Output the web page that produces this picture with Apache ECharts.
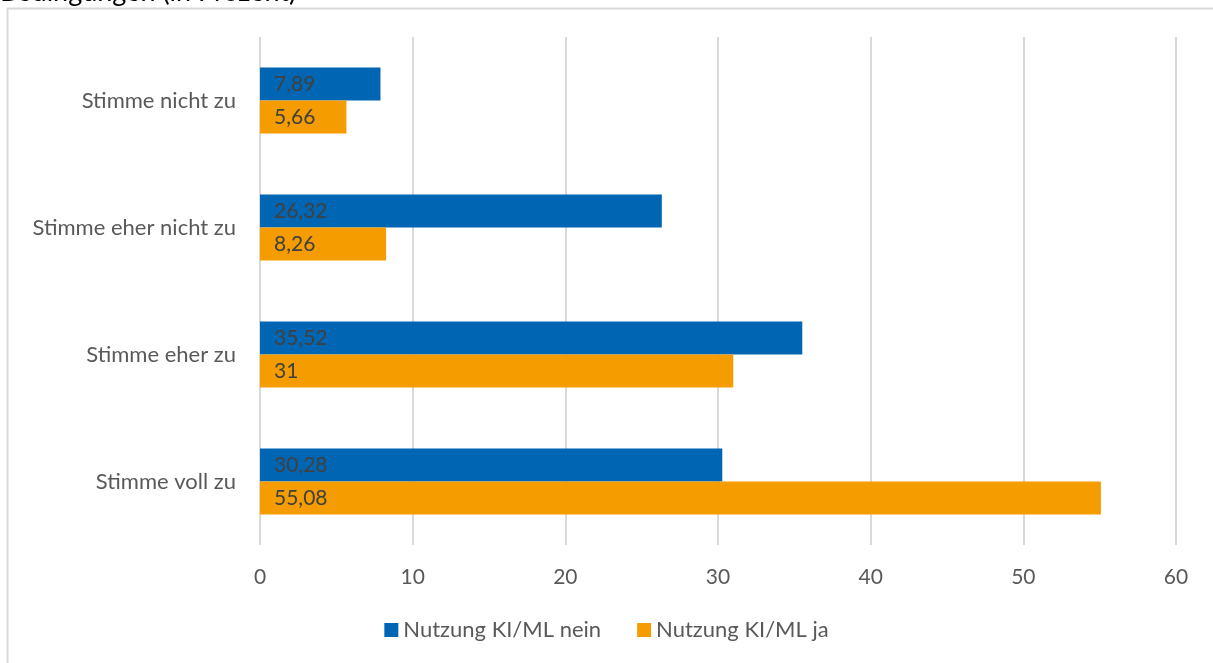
<!DOCTYPE html>
<html>
<head>
<meta charset="utf-8">
<script src="https://cdn.jsdelivr.net/npm/echarts@6/dist/echarts.min.js"></script>
<style>
  html, body { margin: 0; padding: 0; background: #fff; }
  #chart { width: 1213px; height: 663px; }
</style>
</head>
<body>
<div id="chart"></div>
<script>
// Answer categories, listed top to bottom
const categories = ['Stimme nicht zu', 'Stimme eher nicht zu', 'Stimme eher zu', 'Stimme voll zu'];
// Shares in percent per group
const nutzungNein = [7.89, 26.32, 35.52, 30.28];
const nutzungJa = [5.66, 8.26, 31, 55.08];
const seriesNames = ['Nutzung KI/ML nein', 'Nutzung KI/ML ja'];
const titleText = 'Bedingungen (in Prozent)';

const FONT = 'Lato, "Open Sans", sans-serif';
const fmt = p => String(p.value).replace('.', ',');

const chart = echarts.init(document.getElementById('chart'), null, { renderer: 'canvas' });

chart.setOption({
  backgroundColor: '#ffffff',
  animation: false,
  textStyle: { fontFamily: FONT },
  graphic: [
    {
      type: 'rect',
      shape: { x: 7.5, y: 8.5, width: 1220, height: 680 },
      style: { fill: 'none', stroke: '#d9d9d9', lineWidth: 2 },
      silent: true
    },
    {
      type: 'text',
      left: 0,
      top: -21,
      style: { text: titleText, fill: '#000000', font: '27px ' + FONT }
    }
  ],
  legend: {
    data: seriesNames,
    bottom: 17,
    left: 'center',
    padding: [5, 10],
    itemWidth: 14,
    itemHeight: 14,
    itemGap: 36,
    icon: 'rect',
    textStyle: { color: '#595959', fontSize: 22, fontFamily: FONT }
  },
  grid: { left: 260, right: 37, top: 37, bottom: 118, containLabel: false },
  xAxis: {
    type: 'value',
    min: 0,
    max: 60,
    interval: 10,
    axisLine: { show: false },
    axisTick: { show: false },
    axisLabel: { color: '#595959', fontSize: 21, margin: 22, fontFamily: FONT },
    splitLine: { lineStyle: { color: '#d9d9d9', width: 2 } }
  },
  yAxis: {
    type: 'category',
    inverse: true,
    data: categories,
    axisLine: { show: false },
    axisTick: { show: false },
    axisLabel: { color: '#595959', fontSize: 22, margin: 24, fontFamily: FONT }
  },
  series: [
    {
      name: seriesNames[0],
      type: 'bar',
      data: nutzungNein,
      barWidth: 33,
      barGap: '0%',
      itemStyle: { color: '#0066b3' },
      label: {
        show: true, position: 'insideLeft', distance: 14,
        color: '#404040', fontSize: 21, fontFamily: FONT, formatter: fmt
      }
    },
    {
      name: seriesNames[1],
      type: 'bar',
      data: nutzungJa,
      barWidth: 33,
      barGap: '0%',
      itemStyle: { color: '#f59c00' },
      label: {
        show: true, position: 'insideLeft', distance: 14,
        color: '#404040', fontSize: 21, fontFamily: FONT, formatter: fmt
      }
    }
  ]
});
</script>
</body>
</html>
